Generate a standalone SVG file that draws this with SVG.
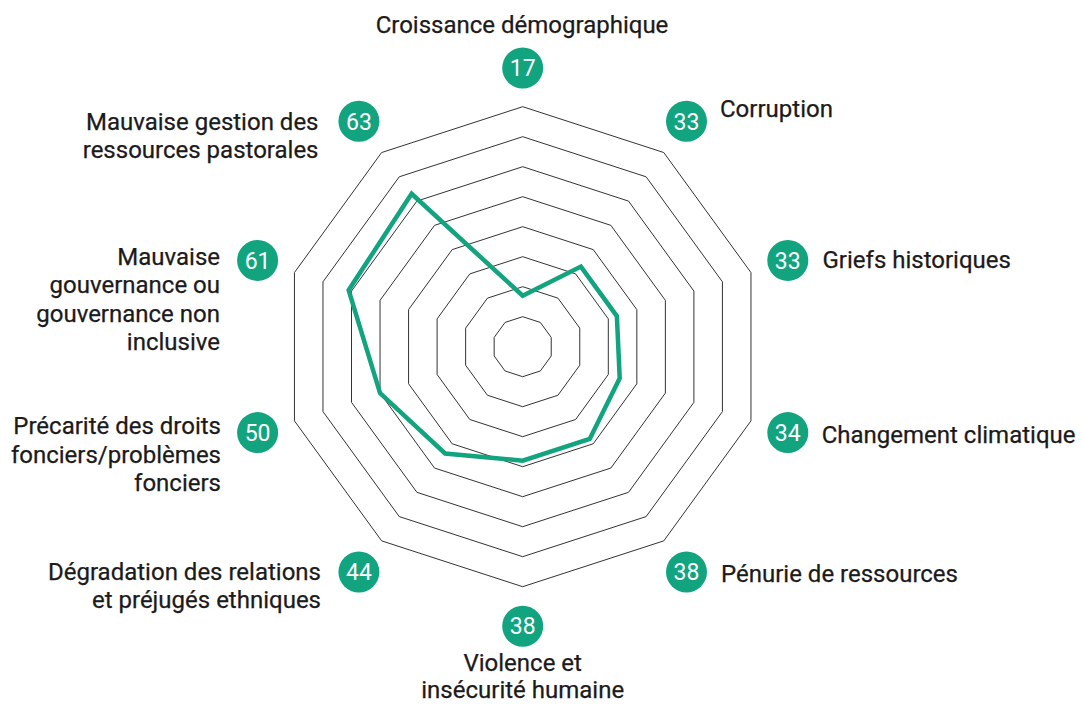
<svg xmlns="http://www.w3.org/2000/svg" width="1081" height="704" viewBox="0 0 1081 704">
<style>
.grid{fill:none;stroke:#333333;stroke-width:1}
.data{fill:none;stroke:#12a37f;stroke-width:4.5;stroke-linejoin:miter}
.badge{fill:#12a37f}
.num{font-family:Roboto,"Liberation Sans",sans-serif;font-size:23px;fill:#ffffff;text-anchor:middle}
.lbl{font-family:Roboto,"Liberation Sans",sans-serif;font-size:24px;fill:#1c1a1b;stroke:#1c1a1b;stroke-width:0.25}
.r{text-anchor:end}
.m{text-anchor:middle}
</style>
<rect width="1081" height="704" fill="#ffffff"/>
<g id="grid" transform="translate(522.7,346.7)">
<polygon class="grid" points="0,-30 17.63,-24.27 28.53,-9.27 28.53,9.27 17.63,24.27 0,30 -17.63,24.27 -28.53,9.27 -28.53,-9.27 -17.63,-24.27"/>
<polygon class="grid" points="0,-60 35.27,-48.54 57.07,-18.54 57.07,18.54 35.27,48.54 0,60 -35.27,48.54 -57.07,18.54 -57.07,-18.54 -35.27,-48.54"/>
<polygon class="grid" points="0,-90 52.9,-72.81 85.6,-27.81 85.6,27.81 52.9,72.81 0,90 -52.9,72.81 -85.6,27.81 -85.6,-27.81 -52.9,-72.81"/>
<polygon class="grid" points="0,-120 70.54,-97.08 114.13,-37.08 114.13,37.08 70.54,97.08 0,120 -70.54,97.08 -114.13,37.08 -114.13,-37.08 -70.54,-97.08"/>
<polygon class="grid" points="0,-150 88.17,-121.35 142.66,-46.35 142.66,46.35 88.17,121.35 0,150 -88.17,121.35 -142.66,46.35 -142.66,-46.35 -88.17,-121.35"/>
<polygon class="grid" points="0,-180 105.8,-145.62 171.2,-55.62 171.2,55.62 105.8,145.62 0,180 -105.8,145.62 -171.2,55.62 -171.2,-55.62 -105.8,-145.62"/>
<polygon class="grid" points="0,-210 123.44,-169.89 199.73,-64.89 199.73,64.89 123.44,169.89 0,210 -123.44,169.89 -199.73,64.89 -199.73,-64.89 -123.44,-169.89"/>
<polygon class="grid" points="0,-240 141.07,-194.16 228.26,-74.16 228.26,74.16 141.07,194.16 0,240 -141.07,194.16 -228.26,74.16 -228.26,-74.16 -141.07,-194.16"/>
</g>
<g id="series" transform="translate(522.7,346.7)">
<polygon class="data" points="0,-51 58.19,-80.09 94.16,-30.59 97.01,31.52 67.01,92.23 0,114 -77.59,106.79 -142.66,46.35 -174.05,-56.55 -111.09,-152.9"/>
</g>
<g id="axis-croissance">
<circle class="badge" cx="522.7" cy="68" r="20.5"/>
<text class="num" x="522.7" y="76.2">17</text>
<text class="lbl m" x="522" y="33.3">Croissance démographique</text>
</g>
<g id="axis-corruption">
<circle class="badge" cx="686.5" cy="121.3" r="20.5"/>
<text class="num" x="686.5" y="129.5">33</text>
<text class="lbl" x="720" y="117.3">Corruption</text>
</g>
<g id="axis-griefs">
<circle class="badge" cx="787.8" cy="260.4" r="20.5"/>
<text class="num" x="787.8" y="268.6">33</text>
<text class="lbl" x="822.5" y="268.3">Griefs historiques</text>
</g>
<g id="axis-climat">
<circle class="badge" cx="787.8" cy="432.6" r="20.5"/>
<text class="num" x="787.8" y="440.8">34</text>
<text class="lbl" x="821.7" y="442.7">Changement climatique</text>
</g>
<g id="axis-penurie">
<circle class="badge" cx="686.5" cy="572" r="20.5"/>
<text class="num" x="686.5" y="580.2">38</text>
<text class="lbl" x="721" y="581.7">Pénurie de ressources</text>
</g>
<g id="axis-violence">
<circle class="badge" cx="522.7" cy="626.2" r="20.5"/>
<text class="num" x="522.7" y="634.4">38</text>
<text class="lbl m" x="522.7" y="671">Violence et</text>
<text class="lbl m" x="522.7" y="698.3">insécurité humaine</text>
</g>
<g id="axis-degradation">
<circle class="badge" cx="358.9" cy="572" r="20.5"/>
<text class="num" x="358.9" y="580.2">44</text>
<text class="lbl r" x="321" y="580">Dégradation des relations</text>
<text class="lbl r" x="321" y="608">et préjugés ethniques</text>
</g>
<g id="axis-foncier">
<circle class="badge" cx="257.6" cy="432.6" r="20.5"/>
<text class="num" x="257.6" y="440.8">50</text>
<text class="lbl r" x="221" y="434">Précarité des droits</text>
<text class="lbl r" x="221" y="462.7">fonciers/problèmes</text>
<text class="lbl r" x="221" y="491.4">fonciers</text>
</g>
<g id="axis-gouvernance">
<circle class="badge" cx="257.6" cy="260.4" r="20.5"/>
<text class="num" x="257.6" y="268.6">61</text>
<text class="lbl r" x="220" y="265">Mauvaise</text>
<text class="lbl r" x="220" y="293.3">gouvernance ou</text>
<text class="lbl r" x="220" y="321.7">gouvernance non</text>
<text class="lbl r" x="220" y="350">inclusive</text>
</g>
<g id="axis-pastorales">
<circle class="badge" cx="358.9" cy="121.3" r="20.5"/>
<text class="num" x="358.9" y="129.5">63</text>
<text class="lbl r" x="318.5" y="130">Mauvaise gestion des</text>
<text class="lbl r" x="318.5" y="158.3">ressources pastorales</text>
</g>
</svg>
